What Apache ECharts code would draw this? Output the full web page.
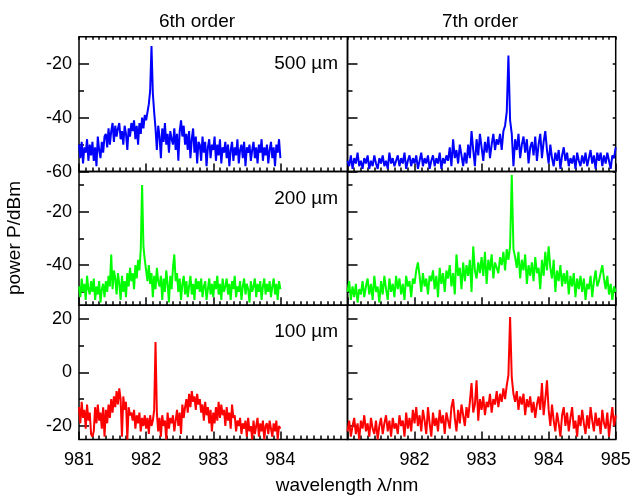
<!DOCTYPE html>
<html><head><meta charset="utf-8">
<script src="https://cdn.jsdelivr.net/npm/echarts@6/dist/echarts.min.js"></script>
<style>html,body{margin:0;padding:0;background:#fff}#c{width:638px;height:497px}</style>
</head><body><div id="c"></div>
<script>
// ---- sampling grids (wavelength, nm) ----
const lamStart = 981.0;
const step6 = 0.02;   // 6th order spectra: 981.00 ... 984.00
const step7 = 0.025;  // 7th order spectra: 981.000 ... 985.000

// ---- power values (dBm) ----
const p6_500 = [
-50,-55,-49,-57,-51,-53,-48,-56,-50,-54,
-49,-56,-51,-58,-47,-52,-55,-49,-53,-47,
-46,-51,-44,-50,-45,-42,-49,-43,-47,-44,
-42,-48,-45,-50,-43,-46,-52,-44,-47,-42,
-45,-41,-48,-43,-50,-42,-46,-40,-44,-39,
-41,-38,-35,-30,-13.5,-31,-38,-44,-52,-43,
-47,-55,-44,-49,-42,-50,-46,-53,-45,-48,
-50,-44,-52,-46,-56,-45,-41,-47,-43,-50,
-46,-52,-45,-55,-48,-44,-53,-47,-57,-49,
-50,-56,-47,-53,-49,-58,-51,-48,-55,-50,
-52,-47,-56,-50,-54,-48,-57,-51,-53,-49,
-55,-50,-58,-52,-49,-56,-51,-54,-48,-57,
-52,-50,-55,-49,-58,-51,-53,-50,-56,-52,
-49,-55,-51,-57,-50,-53,-48,-56,-51,-54,
-50,-57,-52,-49,-55,-51,-58,-50,-53,-48,-55];

const p7_500 = [
-56,-58,-54,-59,-55,-57,-53,-58,-56,-59,
-55,-57,-54,-59,-56,-58,-54,-57,-59,-55,
-57,-54,-58,-56,-59,-53,-57,-55,-58,-56,
-54,-58,-55,-57,-53,-59,-56,-54,-58,-55,
-57,-54,-59,-56,-53,-58,-55,-57,-54,-59,
-56,-54,-58,-55,-57,-53,-59,-55,-57,-54,
-56,-51,-58,-48,-55,-52,-57,-50,-54,-58,
-53,-57,-50,-55,-45,-52,-58,-48,-54,-46,
-51,-56,-49,-53,-47,-55,-50,-46,-52,-48,
-50,-46,-52,-45,-43,-38,-17,-41,-46,-58,
-48,-52,-46,-55,-50,-47,-53,-48,-57,-51,
-49,-54,-47,-56,-50,-46,-55,-49,-45,-52,
-57,-50,-55,-58,-53,-56,-52,-59,-54,-51,
-56,-53,-58,-55,-57,-54,-59,-53,-56,-58,
-54,-57,-53,-58,-55,-52,-57,-54,-59,-53,
-56,-53,-58,-54,-57,-53,-56,-59,-54,-55,-51];

const p6_200 = [
-48,-52,-45,-50,-47,-53,-44,-49,-51,-46,
-50,-45,-53,-48,-51,-46,-54,-49,-47,-52,
-46,-50,-44,-48,-36,-49,-42,-45,-51,-43,
-47,-53,-44,-50,-46,-52,-43,-48,-41,-46,
-43,-49,-40,-45,-38,-42,-34,-10,-33,-38,
-42,-46,-40,-47,-43,-52,-44,-49,-41,-46,
-48,-44,-53,-45,-50,-42,-47,-54,-44,-49,
-41,-36,-46,-43,-50,-45,-53,-47,-44,-51,
-46,-52,-48,-44,-51,-47,-53,-45,-49,-46,
-50,-45,-52,-48,-46,-53,-49,-45,-51,-47,
-52,-46,-49,-44,-51,-47,-53,-45,-50,-48,
-45,-51,-47,-53,-46,-49,-44,-52,-48,-50,
-46,-53,-48,-45,-51,-47,-49,-54,-46,-50,
-48,-45,-52,-47,-50,-46,-53,-48,-45,-51,
-47,-50,-46,-52,-48,-45,-51,-47,-53,-46,-49];

const p7_200 = [
-50,-46,-53,-48,-52,-47,-54,-49,-51,-46,
-52,-48,-45,-51,-47,-53,-44,-50,-48,-54,
-46,-51,-44,-49,-53,-45,-50,-47,-52,-44,
-49,-45,-51,-47,-53,-44,-48,-46,-52,-45,
-47,-42,-39,-44,-50,-43,-48,-45,-51,-44,
-46,-42,-49,-44,-52,-41,-47,-43,-50,-42,
-45,-40,-48,-43,-51,-36,-44,-41,-49,-39,
-46,-40,-44,-38,-50,-33,-42,-45,-39,-43,
-37,-44,-35,-47,-38,-42,-36,-45,-39,-41,
-43,-37,-40,-35,-42,-34,-38,-33,-6.3,-34,
-37,-41,-35,-45,-38,-42,-36,-47,-40,-44,
-39,-46,-37,-43,-41,-49,-38,-44,-35,-42,
-33,-41,-45,-38,-50,-42,-46,-40,-48,-43,
-47,-42,-51,-44,-48,-43,-52,-45,-49,-44,
-50,-45,-53,-47,-49,-44,-52,-46,-42,-48,
-46,-43,-40,-45,-49,-44,-51,-47,-53,-48,-50];

const p6_100 = [
-13,-19,-11,-17,-14,-21,-12,-18,-15,-23,
-24,-22,-13,-19,-12,-18,-15,-21,-13,-24,
-14,-19,-12,-17,-10,-15,-9,-13,-7,-12,
-6,-10,-24,-9,-14,-11,-25,-13,-16,-15,
-18,-14,-21,-16,-19,-15,-22,-17,-20,-16,
-21,-17,-23,-16,-20,-18,-14,11.3,-15,-22,
-17,-24,-16,-20,-18,-25,-15,-21,-17,-19,
-16,-22,-18,-14,-20,-15,-23,-12,-17,-13,
-10,-15,-8,-13,-7,-11,-9,-14,-8,-12,
-10,-15,-12,-18,-11,-16,-13,-19,-14,-22,
-15,-19,-13,-18,-11,-17,-12,-16,-14,-20,
-13,-18,-15,-21,-12,-17,-16,-22,-18,-20,
-17,-23,-19,-21,-18,-24,-17,-22,-20,-25,
-18,-23,-20,-17,-24,-19,-22,-18,-25,-20,
-19,-23,-18,-21,-24,-19,-22,-18,-25,-20,-21];

const p7_100 = [
-22,-18,-24,-20,-17,-23,-19,-25,-18,-21,
-16,-22,-19,-24,-17,-21,-23,-18,-25,-20,
-17,-23,-19,-16,-22,-18,-24,-17,-21,-19,
-23,-16,-20,-18,-24,-15,-21,-17,-22,-14,
-19,-13,-20,-16,-22,-14,-18,-23,-13,-19,
-24,-15,-20,-17,-22,-14,-19,-16,-23,-15,
-18,-21,-13,-10,-17,-22,-14,-19,-12,-16,
-20,-13,-17,-11,-4,-15,-12,-3,-18,-10,
-14,-9,-16,-11,-13,-8,-15,-10,-12,-7,
-13,-8,-11,-6,-10,-5,-1,20.6,-2,-8,
-11,-7,-14,-9,-12,-8,-16,-10,-13,-9,
-15,-11,-17,-12,-9,-14,-4,-16,-10,-3,
-14,-20,-12,-18,-22,-15,-19,-24,-16,-13,
-20,-15,-22,-17,-13,-21,-18,-24,-16,-20,
-14,-19,-23,-16,-21,-13,-18,-22,-15,-20,
-17,-23,-14,-19,-21,-15,-24,-18,-13,-20,-16];

// ---- axes / tick labels ----
const xMin = 981, xMax = 985;
const xMajor = [981, 982, 983, 984, 985];
const xLabels6 = [981, 982, 983, 984];
const xLabels7 = [982, 983, 984, 985];
const yRanges = [[-60, -10], [-55, -5], [-25, 25]];
const yMajor = [[-60, -40, -20], [-40, -20], [-20, 0, 20]];
const yMinor = [[-50, -30], [-50, -30, -10], [-10, 10]];
const rowLabels = ['500 µm', '200 µm', '100 µm'];
const colTitles = ['6th order', '7th order'];
const xName = 'wavelength λ/nm';
const yName = 'power P/dBm';

const xMinor = [];
for (let i = 1; i < 40; i++) if (i % 10) xMinor.push(+(xMin + i / 10).toFixed(1));

const panels = [
  {vals: p6_500, step: step6, color: '#0000ff', row: 0, col: 0},
  {vals: p7_500, step: step7, color: '#0000ff', row: 0, col: 1},
  {vals: p6_200, step: step6, color: '#00ff00', row: 1, col: 0},
  {vals: p7_200, step: step7, color: '#00ff00', row: 1, col: 1},
  {vals: p6_100, step: step6, color: '#ff0000', row: 2, col: 0},
  {vals: p7_100, step: step7, color: '#ff0000', row: 2, col: 1}
];

const FONT = "'Liberation Sans', Arial, Helvetica, sans-serif";
const gLeft = [79, 347.5], gWidth = [268.5, 268.2];
const gTop = [36.7, 171.6, 305.2], gHeight = [134.9, 133.6, 134.2];
const tickLine = {color: '#000', width: 1.5};

const grids = [], xAxes = [], yAxes = [], series = [];
function base(g) {
  return {gridIndex: g, axisLine: {show: false, onZero: false}, splitLine: {show: false},
          axisLabel: {show: false}, axisTick: {show: false}};
}
function addX(g, o) { xAxes.push(Object.assign(base(g), {type: 'value', min: xMin, max: xMax}, o)); return xAxes.length - 1; }
function addY(g, r, o) { yAxes.push(Object.assign(base(g), {type: 'value', min: yRanges[r][0], max: yRanges[r][1]}, o)); return yAxes.length - 1; }

panels.forEach((p, g) => {
  grids.push({left: gLeft[p.col], width: gWidth[p.col], top: gTop[p.row], height: gHeight[p.row],
              show: true, borderColor: '#000', borderWidth: 1.5, backgroundColor: 'transparent'});
  const xi = addX(g, {position: 'bottom',
    axisTick: {show: true, inside: true, length: 8, customValues: xMajor, lineStyle: tickLine},
    axisLabel: {show: p.row === 2, customValues: p.col === 0 ? xLabels6 : xLabels7,
                color: '#000', fontSize: 18, fontFamily: FONT, margin: 12}});
  addX(g, {position: 'bottom', axisTick: {show: true, inside: true, length: 4, customValues: xMinor, lineStyle: tickLine}});
  if (p.row === 0) addX(g, {position: 'top', axisTick: {show: true, inside: true, length: 3, customValues: xMinor.concat(xMajor), lineStyle: tickLine}});
  const yi = addY(g, p.row, {position: 'left',
    axisTick: {show: true, inside: true, length: 10, customValues: yMajor[p.row], lineStyle: tickLine},
    axisLabel: {show: p.col === 0, customValues: yMajor[p.row], color: '#000', fontSize: 18, fontFamily: FONT, margin: 7}});
  addY(g, p.row, {position: 'left', axisTick: {show: true, inside: true, length: 5, customValues: yMinor[p.row], lineStyle: tickLine}});
  if (p.col === 1) addY(g, p.row, {position: 'right', axisTick: {show: true, inside: true, length: 3, customValues: yMajor[p.row].concat(yMinor[p.row]), lineStyle: tickLine}});
  series.push({type: 'line', xAxisIndex: xi, yAxisIndex: yi, showSymbol: false, symbol: 'none',
    clip: true, animation: false, lineStyle: {color: p.color, width: 2}, itemStyle: {color: p.color},
    data: p.vals.map((v, i) => [+(lamStart + i * p.step).toFixed(3), v])});
});

function txt(x, y, s, extra) {
  return Object.assign({type: 'text', x: x, y: y, style: {text: s, font: '19px ' + FONT, fill: '#000',
    align: 'center', verticalAlign: 'middle', textAlign: 'center', textVerticalAlign: 'middle'}}, extra || {});
}
const graphic = [
  txt(197, 22, colTitles[0]), txt(480, 22, colTitles[1]),
  txt(347, 486, xName),
  txt(15, 238, yName, {rotation: Math.PI / 2})
];
rowLabels.forEach((s, r) => {
  const t = txt(338, gTop[r] + 27, s);
  t.style.align = 'right'; t.style.textAlign = 'right';
  graphic.push(t);
});

const chart = echarts.init(document.getElementById('c'));
chart.setOption({animation: false, backgroundColor: '#fff', grid: grids, xAxis: xAxes, yAxis: yAxes, series: series, graphic: graphic});
</script></body></html>
